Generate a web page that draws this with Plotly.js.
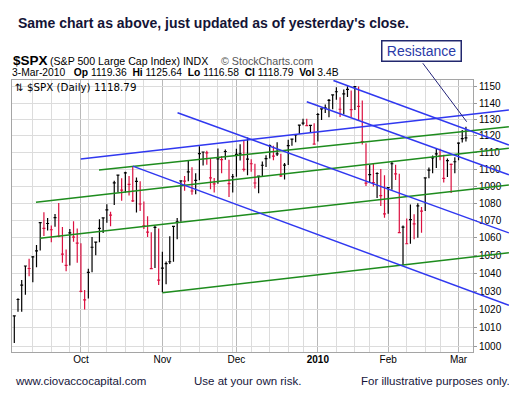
<!DOCTYPE html>
<html><head><meta charset="utf-8">
<script src="https://cdn.plot.ly/plotly-3.0.1.min.js"></script>
<style>html,body{margin:0;padding:0;background:#fff;}#chart{width:509px;height:406px;}</style>
</head><body><div id="chart"></div>
<script>
// ---- data (S&P 500 daily, trading-day index 0 = 4-Sep-2009 ... 122 = 3-Mar-2010)
const dates = ['09-04','09-08','09-09','09-10','09-11','09-14','09-15','09-16','09-17','09-18','09-21','09-22','09-23','09-24','09-25','09-28','09-29','09-30',
'10-01','10-02','10-05','10-06','10-07','10-08','10-09','10-12','10-13','10-14','10-15','10-16','10-19','10-20','10-21','10-22','10-23','10-26','10-27','10-28','10-29','10-30',
'11-02','11-03','11-04','11-05','11-06','11-09','11-10','11-11','11-12','11-13','11-16','11-17','11-18','11-19','11-20','11-23','11-24','11-25','11-27','11-30',
'12-01','12-02','12-03','12-04','12-07','12-08','12-09','12-10','12-11','12-14','12-15','12-16','12-17','12-18','12-21','12-22','12-23','12-24','12-28','12-29','12-30','12-31',
'01-04','01-05','01-06','01-07','01-08','01-11','01-12','01-13','01-14','01-15','01-19','01-20','01-21','01-22','01-25','01-26','01-27','01-28','01-29',
'02-01','02-02','02-03','02-04','02-05','02-08','02-09','02-10','02-11','02-12','02-16','02-17','02-18','02-19','02-22','02-23','02-24','02-25','02-26',
'03-01','03-02','03-03'];
const highs = [1016.5,1026.1,1036.3,1044.1,1048.2,1049.7,1056.0,1068.8,1074.8,1071.5,1067.2,1073.8,1080.2,1066.3,1053.5,1065.1,1069.6,1065.4,
1057.0,1030.6,1042.6,1060.6,1058.0,1070.7,1071.5,1079.5,1075.1,1093.2,1096.6,1094.7,1098.6,1096.0,1101.4,1095.2,1093.0,1081.0,1072.5,1063.3,1066.8,1065.4,
1052.2,1046.6,1061.0,1066.7,1071.5,1093.2,1096.1,1105.4,1101.2,1097.6,1113.7,1110.3,1111.1,1106.4,1094.9,1112.4,1107.9,1111.8,1105.7,1097.2,
1112.3,1115.0,1117.3,1119.1,1106.0,1103.3,1096.0,1104.6,1108.4,1114.8,1114.1,1116.2,1109.2,1103.7,1117.7,1118.5,1121.0,1126.5,1130.4,1130.4,1126.4,1127.6,
1133.9,1136.6,1139.2,1142.5,1145.4,1149.7,1143.6,1148.4,1150.4,1147.8,1150.5,1150.2,1141.6,1115.5,1102.6,1103.7,1098.3,1100.2,1096.5,
1089.4,1104.7,1102.7,1097.3,1067.1,1071.2,1079.3,1073.7,1080.0,1077.8,1095.0,1101.0,1108.2,1112.4,1112.3,1108.6,1106.4,1103.5,1107.2,
1116.1,1123.5,1125.6];
const lows = [1001.6,1018.7,1018.7,1028.0,1038.4,1035.0,1043.4,1052.9,1061.2,1064.3,1057.5,1066.4,1060.4,1045.9,1041.2,1044.4,1057.8,1045.9,
1029.4,1019.9,1025.9,1040.6,1050.1,1057.6,1062.9,1068.7,1066.7,1079.0,1086.4,1081.5,1086.2,1084.6,1080.8,1074.6,1075.5,1065.2,1060.6,1042.2,1043.0,1033.4,
1029.4,1033.9,1045.2,1046.5,1059.3,1069.3,1087.4,1093.0,1085.0,1085.3,1093.5,1102.2,1102.7,1088.3,1086.3,1091.4,1097.6,1105.7,1083.7,1086.3,
1095.6,1105.3,1098.7,1096.5,1098.6,1088.6,1085.9,1096.0,1101.3,1106.4,1105.4,1107.9,1095.4,1093.9,1102.5,1114.1,1116.1,1121.1,1126.5,1126.1,1121.9,1114.8,
1116.6,1129.7,1133.9,1131.3,1136.2,1142.0,1131.4,1133.2,1143.8,1131.4,1135.8,1129.3,1114.8,1090.2,1092.4,1089.9,1083.1,1078.5,1071.6,
1073.9,1088.0,1093.6,1062.8,1044.5,1056.5,1056.7,1059.3,1060.1,1063.0,1075.5,1094.7,1097.7,1100.8,1105.4,1092.2,1095.5,1086.0,1097.6,
1105.4,1116.0,1116.6];
const closes = [1016.4,1025.4,1033.4,1044.1,1042.7,1049.3,1052.6,1068.8,1065.5,1068.3,1064.7,1071.7,1060.9,1050.8,1044.4,1062.9,1060.5,1057.1,
1029.9,1025.2,1040.5,1054.7,1057.6,1065.5,1071.5,1076.2,1073.2,1092.0,1096.6,1087.7,1097.9,1091.1,1081.4,1092.9,1079.6,1067.0,1063.4,1042.6,1066.1,1036.2,
1042.9,1045.4,1046.5,1066.6,1069.3,1093.1,1093.0,1098.5,1087.2,1093.5,1109.3,1110.3,1109.8,1094.9,1091.4,1106.2,1105.7,1110.6,1091.5,1095.6,
1108.9,1109.2,1099.9,1106.0,1103.3,1091.9,1096.0,1102.4,1106.4,1114.1,1107.9,1109.2,1096.1,1102.5,1114.1,1118.0,1120.6,1126.5,1127.8,1126.2,1126.4,1115.1,
1133.0,1136.5,1137.1,1141.7,1145.0,1147.0,1136.2,1145.7,1148.5,1136.0,1150.2,1138.0,1116.5,1091.8,1096.8,1092.2,1097.5,1084.5,1073.9,
1089.2,1103.3,1097.3,1063.1,1066.2,1056.7,1070.5,1068.1,1078.5,1075.5,1094.9,1099.5,1106.75,1109.2,1108.0,1094.6,1105.2,1102.9,1104.5,
1115.7,1118.3,1118.8];

const monthTickIdx = [18, 40, 60, 82, 101, 120];
const monthTickText = ['Oct', 'Nov', 'Dec', '<b>2010</b>', 'Feb', 'Mar'];
const weekGridIdx = [5,10,15,20,25,30,35,45,50,55,59,64,69,74,78,87,92,96,106,111,115];
const priceTicks = [1000,1010,1020,1030,1040,1050,1060,1070,1080,1090,1100,1110,1120,1130,1140,1150];

// trend lines: [startIndex, startValue, endIndex, endValue]
const blueLines = [
  [17.94, 1106.1, 133.6, 1135.7],
  [32.0, 1101.9, 133.6, 1022.2],
  [44.1, 1134.1, 133.6, 1062.9],
  [79.0, 1140.8, 133.6, 1096.7],
  [86.2, 1154.0, 133.6, 1114.5]
];
const greenLines = [
  [22.88, 1099.6, 133.6, 1125.6],
  [5.86, 1080.6, 133.6, 1112.5],
  [6.94, 1059.8, 133.6, 1090.7],
  [40.0, 1029.2, 133.6, 1051.6]
];
const resistancePoint = [122.2, 1128.6];

// ---- layout geometry
const W = 509, H = 406;
const ML = 12, MR = 0, MT = 80, MB = 54;
const plotRightPx = 473;
const pxPerBar = 3.702;
const x0 = -0.62;
const xMainEnd = x0 + (plotRightPx - ML) / pxPerBar;
const xFullEnd = x0 + (W - MR - ML) / pxPerBar;
const yRange = [2.998595, 3.062312];
const PW = W - ML - MR, PH = H - MT - MB;
const PX = px => (px - ML) / PW;
const PY = py => (H - MB - py) / PH;

// ---- traces
const idx = closes.map((_, i) => i);
function barTrace(sel, color) {
  const ii = idx.filter(sel);
  return {
    type: 'ohlc', x: ii,
    open: ii.map(i => closes[i]), high: ii.map(i => highs[i]),
    low: ii.map(i => lows[i]), close: ii.map(i => closes[i]),
    increasing: {line: {color: color, width: 1.2}},
    decreasing: {line: {color: color, width: 1.2}},
    tickwidth: 0.4, hoverinfo: 'skip', showlegend: false, xaxis: 'x', yaxis: 'y'
  };
}
const upTrace = barTrace(i => i === 0 || closes[i] >= closes[i - 1], '#000000');
const dnTrace = barTrace(i => i > 0 && closes[i] < closes[i - 1], '#dc1040');

function lineTrace(seg, color) {
  return {type: 'scatter', mode: 'lines', x: [seg[0], seg[2]], y: [seg[1], seg[3]],
    line: {color: color, width: 1.5}, hoverinfo: 'skip', showlegend: false, xaxis: 'x3', yaxis: 'y3'};
}
const traces = [upTrace, dnTrace]
  .concat(greenLines.map(s => lineTrace(s, '#1e8c1e')))
  .concat(blueLines.map(s => lineTrace(s, '#3038f0')));

const baseFont = 'Liberation Sans, Arial, sans-serif';
function txt(px, py, text, size, color, extra) {
  return Object.assign({xref: 'paper', yref: 'paper', x: PX(px), y: PY(py), xanchor: 'left', yanchor: 'middle',
    text: text, showarrow: false, font: {family: baseFont, size: size, color: color}, borderpad: 0}, extra || {});
}
const NB = '\u00a0';
const annotations = [
  txt(17, 23, '<b>Same chart as above, just updated as of yesterday\'s close.</b>', 14, '#141436'),
  txt(11.5, 60.5, '<b>$SPX</b>', 13.5, '#000'),
  txt(49, 61, '(S&P 500 Large Cap Index)' + NB + 'INDX', 10.6, '#000'),
  txt(220, 61, '\u00a9' + NB + 'StockCharts.com', 10.7, '#555'),
  txt(11, 72.7, '3-Mar-2010' + NB + NB + NB + '<b>Op</b> 1119.36' + NB + NB + '<b>Hi</b> 1125.64' + NB + NB + '<b>Lo</b> 1116.58' + NB + NB + '<b>Cl</b> 1118.79' + NB + NB + '<b>Vol</b> 3.4B', 10.3, '#000'),
  txt(14, 87, '\u21c5 $SPX (Daily) 1118.79', 10.3, '#000', {font: {family: 'DejaVu Sans, Verdana, sans-serif', size: 10.3, color: '#000'}}),
  txt(13.5, 381, 'www.ciovaccocapital.com', 11.5, '#15153a'),
  txt(192.5, 381, 'Use at your own risk.', 11.5, '#15153a'),
  txt(359.5, 381, 'For illustrative purposes only.', 11.5, '#15153a'),
  {xref: 'paper', yref: 'paper', x: PX(421), y: PY(51), xanchor: 'center', yanchor: 'middle',
   text: 'Resistance', showarrow: false, font: {family: baseFont, size: 14, color: '#2a3aa8'},
   bgcolor: '#ffffff', bordercolor: '#22286e', borderwidth: 1.5, borderpad: 1, width: 76, height: 17},
  {xref: 'x', yref: 'y', x: resistancePoint[0], y: Math.log10(resistancePoint[1]), text: '',
   showarrow: true, arrowhead: 0, arrowwidth: 1, arrowcolor: '#24247a', ax: -45, ay: -60, standoff: 0}
];

const layout = {
  width: W, height: H,
  margin: {l: ML, r: MR, t: MT, b: MB, pad: 0},
  paper_bgcolor: '#ffffff', plot_bgcolor: 'rgba(0,0,0,0)',
  font: {family: baseFont, size: 10, color: '#000'},
  showlegend: false,
  xaxis: {
    domain: [0, (plotRightPx - ML) / PW], range: [x0, xMainEnd], type: 'linear', anchor: 'y',
    tickmode: 'array', tickvals: monthTickIdx, ticktext: monthTickText, ticks: '', ticklabelstandoff: -2,
    showgrid: true, gridcolor: '#b9b9b9', gridwidth: 1,
    minor: {tickmode: 'array', tickvals: weekGridIdx, showgrid: true, gridcolor: '#dcdcdc', gridwidth: 1, ticks: ''},
    showline: true, mirror: true, linecolor: '#a5a5a5', linewidth: 1, zeroline: false,
    tickfont: {family: baseFont, size: 10, color: '#000'},
    rangeslider: {visible: false}, fixedrange: true
  },
  yaxis: {
    domain: [0, 1], type: 'log', range: yRange, side: 'right', anchor: 'x',
    tickmode: 'array', tickvals: priceTicks, ticktext: priceTicks.map(String),
    showgrid: true, gridcolor: '#dcdcdc', gridwidth: 1,
    ticks: 'outside', ticklen: 3, tickcolor: '#999', tickwidth: 1,
    showline: true, mirror: true, linecolor: '#a5a5a5', linewidth: 1, zeroline: false,
    tickfont: {family: baseFont, size: 10, color: '#000'}, fixedrange: true
  },
  xaxis3: {domain: [0, 1], range: [x0, xFullEnd], type: 'linear', anchor: 'y3', visible: false, fixedrange: true},
  yaxis3: {domain: [0, 1], range: yRange, type: 'log', anchor: 'x3', visible: false, fixedrange: true},
  annotations: annotations
};

Plotly.newPlot('chart', traces, layout, {staticPlot: true, displayModeBar: false});
</script>
</body></html>
